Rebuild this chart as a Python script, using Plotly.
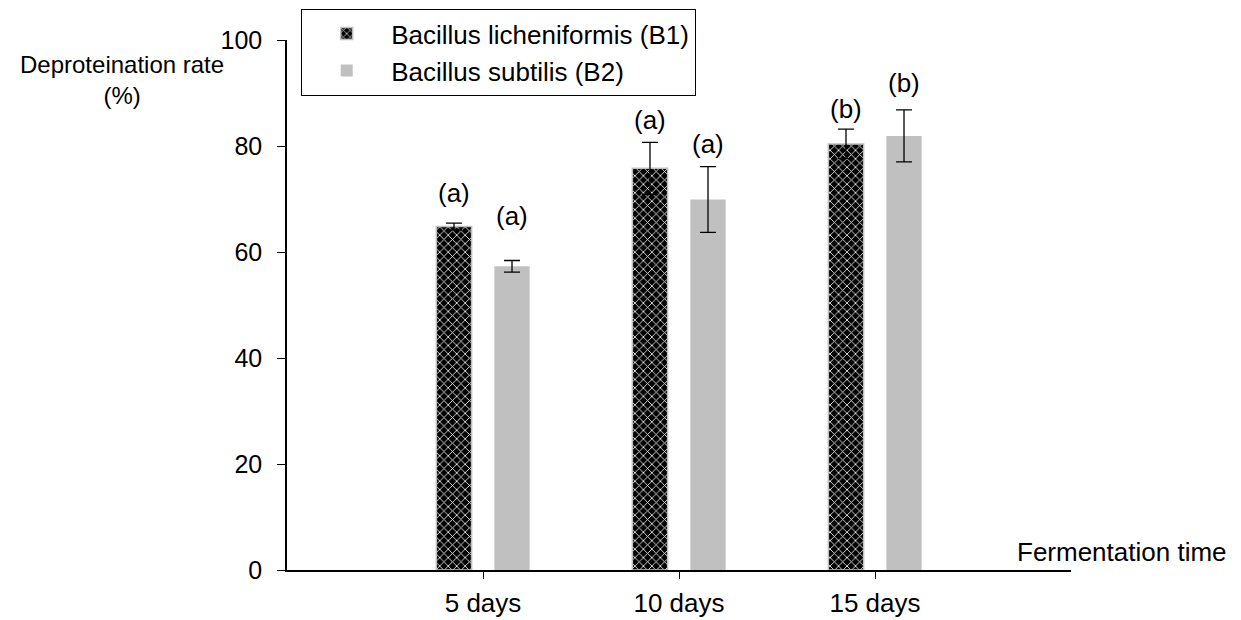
import plotly.graph_objects as go

categories = ["5 days", "10 days", "15 days"]
b1_values = [64.8, 75.8, 80.4]
b1_errors = [0.65, 4.9, 2.8]
b2_values = [57.3, 69.9, 81.9]
b2_errors = [1.1, 6.2, 4.9]
b1_letters = ["(a)", "(a)", "(b)"]
b2_letters = ["(a)", "(a)", "(b)"]

# label heights (data units) for the significance letters
b1_letter_pos = [71.2, 84.9, 86.9]
b2_letter_pos = [66.7, 80.4, 91.8]

FONT = "Liberation Sans, Arial, sans-serif"

# the page body adds an 8px offset; size the figure so that it fits the window
W, H = 1233, 612

fig = go.Figure()
fig.add_trace(go.Bar(
    name="Bacillus licheniformis (B1)", x=categories, y=b1_values,
    marker=dict(color="black", line=dict(color="#c0c0c0", width=1.5),
                pattern=dict(shape="x", bgcolor="black", fgcolor="white",
                             size=6, solidity=0.25, fillmode="replace")),
    error_y=dict(type="data", array=b1_errors, visible=True, color="black",
                 thickness=1.3, width=8),
))
fig.add_trace(go.Bar(
    name="Bacillus subtilis (B2)", x=categories, y=b2_values,
    marker=dict(color="#c0c0c0", line=dict(width=0)),
    error_y=dict(type="data", array=b2_errors, visible=True, color="black",
                 thickness=1.3, width=8),
))

annotations = []
for i, c in enumerate(categories):
    annotations.append(dict(x=c, y=b1_letter_pos[i], text=b1_letters[i], xref="x", yref="y",
                            showarrow=False, xshift=-29, font=dict(size=26, color="black", family=FONT)))
    annotations.append(dict(x=c, y=b2_letter_pos[i], text=b2_letters[i], xref="x", yref="y",
                            showarrow=False, xshift=29, font=dict(size=26, color="black", family=FONT)))

annotations.append(dict(x=-0.2105, y=0.925, xref="paper", yref="paper", showarrow=False,
                        text="Deproteination rate<br>(%)", align="center",
                        xanchor="center", yanchor="middle",
                        font=dict(size=24, color="black", family=FONT)))
annotations.append(dict(x=0.928, y=0.034, xref="paper", yref="paper", showarrow=False,
                        text="Fermentation time", xanchor="left", yanchor="middle",
                        font=dict(size=26, color="black", family=FONT)))

fig.update_layout(
    width=W, height=H,
    margin=dict(l=279, r=170, t=32, b=50, autoexpand=False),
    paper_bgcolor="white", plot_bgcolor="white",
    font=dict(family=FONT, size=24, color="black"),
    barmode="group", bargap=0.408, bargroupgap=0.392,
    showlegend=True,
    legend=dict(x=293 / W, y=1 - 1 / H, xref="container", yref="container",
                xanchor="left", yanchor="top",
                bordercolor="black", borderwidth=1.2, bgcolor="white",
                font=dict(size=26, family=FONT, color="black"),
                itemwidth=79, tracegroupgap=0),
    annotations=annotations,
)
fig.update_xaxes(range=[-1, 3], showline=True, linecolor="black", linewidth=1.5,
                 ticks="outside", ticklen=7, tickwidth=1.3, tickcolor="black",
                 showgrid=False, zeroline=False, ticklabelstandoff=2, automargin=False,
                 tickfont=dict(size=26))
fig.update_yaxes(range=[0, 100], tickvals=[0, 20, 40, 60, 80, 100], showline=True,
                 linecolor="black", linewidth=1.5, ticks="outside", ticklen=8,
                 tickwidth=1.3, tickcolor="black", showgrid=False, zeroline=False,
                 ticklabelstandoff=10, automargin=False, tickfont=dict(size=25))

fig.write_html("out.html")
